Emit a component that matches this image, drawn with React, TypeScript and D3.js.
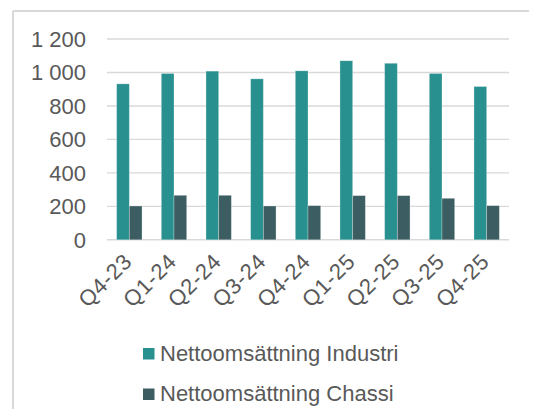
import { useEffect, useRef } from "react";
import * as d3 from "d3";

const QUARTERS = ["Q4-23", "Q1-24", "Q2-24", "Q3-24", "Q4-24", "Q1-25", "Q2-25", "Q3-25", "Q4-25"];
const INDUSTRI = [932, 994, 1008, 962, 1010, 1070, 1055, 994, 916];
const CHASSI = [202, 266, 266, 202, 204, 264, 264, 248, 204];
const SERIES = ["Nettoomsättning Industri", "Nettoomsättning Chassi"];
const COLORS = ["#28908f", "#3c5d61"];
const Y_TICKS = [0, 200, 400, 600, 800, 1000, 1200];

const FONT = "'Liberation Sans', Arial, sans-serif";

export default function App() {
  const svgRef = useRef<SVGSVGElement>(null);

  useEffect(() => {
    if (!svgRef.current) return;
    const svg = d3.select(svgRef.current);
    svg.selectAll("*").remove();

    const W = 537, H = 417;
    const plot = { left: 107, right: 509, top: 39, bottom: 239.8 };

    // top accent + frame
    svg.append("rect").attr("x", 0).attr("y", 0).attr("width", W).attr("height", 2.5).attr("fill", "#28908f");
    svg.append("line").attr("x1", 13).attr("x2", W).attr("y1", 11).attr("y2", 11)
      .attr("stroke", "#d9d9d9").attr("stroke-width", 2);
    svg.append("line").attr("x1", 13).attr("x2", 13).attr("y1", 11).attr("y2", H)
      .attr("stroke", "#d9d9d9").attr("stroke-width", 2);

    const y = d3.scaleLinear().domain([0, 1200]).range([plot.bottom, plot.top]);
    const x0 = d3.scaleBand().domain(QUARTERS).range([plot.left, plot.right]).padding(0);
    const x1 = d3.scaleBand().domain(SERIES).range([0, x0.bandwidth()]).paddingInner(0).paddingOuter(0.76);

    const fmt = d3.formatLocale({ decimal: ",", thousands: " ", grouping: [3], currency: ["", " kr"] }).format(",d");

    // gridlines
    svg.append("g").selectAll("line").data(Y_TICKS).join("line")
      .attr("x1", plot.left).attr("x2", plot.right)
      .attr("y1", (d) => y(d)).attr("y2", (d) => y(d))
      .attr("stroke", "#d9d9d9").attr("stroke-width", 1.4);

    // y labels
    svg.append("g").selectAll("text").data(Y_TICKS).join("text")
      .attr("x", 86).attr("y", (d) => y(d)).attr("dy", "0.36em")
      .attr("text-anchor", "end").attr("fill", "#595959")
      .attr("font-family", FONT).attr("font-size", 22)
      .text((d) => fmt(d));

    // bars
    const rows = QUARTERS.map((q, i) => ({ q, vals: [INDUSTRI[i], CHASSI[i]] }));
    const groups = svg.append("g").selectAll("g").data(rows).join("g")
      .attr("transform", (d) => `translate(${x0(d.q)},0)`);
    groups.selectAll("rect").data((d) => d.vals.map((v, k) => ({ v, s: SERIES[k], k }))).join("rect")
      .attr("x", (d) => x1(d.s)!)
      .attr("width", x1.bandwidth())
      .attr("y", (d) => y(d.v))
      .attr("height", (d) => y(0) - y(d.v))
      .attr("fill", (d) => COLORS[d.k])
      .attr("stroke", "rgba(255,255,255,0.35)")
      .attr("stroke-width", 0.8);

    // x labels
    svg.append("g").selectAll("text").data(QUARTERS).join("text")
      .attr("transform", (d) => `translate(${x0(d)! + x0.bandwidth() / 2 + 4},${plot.bottom + 23}) rotate(-45)`)
      .attr("text-anchor", "end").attr("fill", "#595959")
      .attr("font-family", FONT).attr("font-size", 22).attr("letter-spacing", 0.7)
      .text((d) => d);

    // legend
    const legend = svg.append("g").selectAll("g").data(SERIES).join("g")
      .attr("transform", (_, i) => `translate(143,${348 + i * 40.5})`);
    legend.append("rect").attr("width", 11.5).attr("height", 11.5).attr("fill", (_, i) => COLORS[i]);
    legend.append("text").attr("x", 17).attr("y", 12.5)
      .attr("fill", "#595959").attr("font-family", FONT).attr("font-size", 22)
      .text((d) => d);
  }, []);

  return (
    <div style={{ margin: -8, background: "#fff" }}>
      <svg ref={svgRef} width={537} height={417} style={{ display: "block" }} />
    </div>
  );
}
